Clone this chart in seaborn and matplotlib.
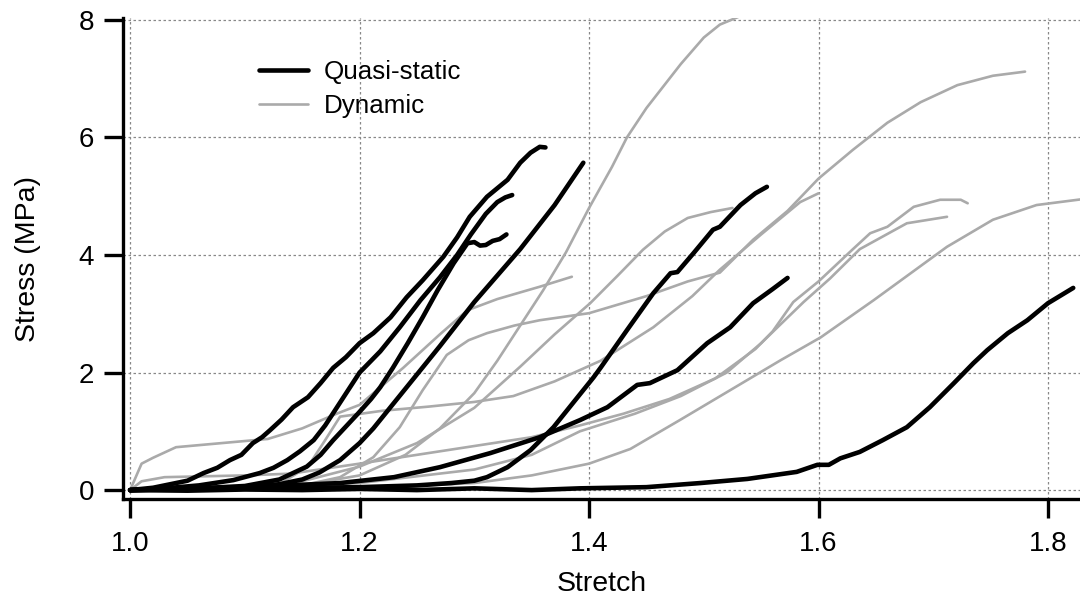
import numpy as np
import pandas as pd
import matplotlib
matplotlib.use("Agg")
import matplotlib.pyplot as plt
import seaborn as sns
from matplotlib.lines import Line2D

# ---------------- data ----------------
# Quasi-static curves
q1_x = [1.0, 1.02, 1.035, 1.05, 1.064, 1.076, 1.087, 1.097, 1.107, 1.115, 1.122, 1.132, 1.142, 1.155, 1.166,
        1.177, 1.188, 1.2, 1.212, 1.227, 1.241, 1.255, 1.273, 1.285, 1.296, 1.311, 1.329, 1.34, 1.349, 1.357, 1.362]
q1_y = [0.0, 0.04, 0.1, 0.16, 0.29, 0.38, 0.51, 0.6, 0.8, 0.9, 1.02, 1.2, 1.41, 1.58, 1.82,
        2.08, 2.26, 2.5, 2.67, 2.94, 3.28, 3.57, 3.97, 4.3, 4.65, 4.99, 5.28, 5.57, 5.74, 5.84, 5.83]
q2_x = [1.0, 1.03, 1.06, 1.09, 1.113, 1.125, 1.137, 1.148, 1.16, 1.17, 1.18, 1.19, 1.2, 1.21, 1.218, 1.235,
        1.253, 1.27, 1.285, 1.297, 1.31, 1.32, 1.327, 1.333]
q2_y = [0.0, 0.03, 0.08, 0.17, 0.29, 0.38, 0.51, 0.66, 0.85, 1.1, 1.4, 1.7, 2.0, 2.2, 2.36, 2.77,
        3.23, 3.62, 4.0, 4.35, 4.7, 4.9, 4.98, 5.02]
q3_x = [1.0, 1.05, 1.1, 1.13, 1.154, 1.166, 1.177, 1.188, 1.199, 1.21, 1.218, 1.229, 1.242, 1.255, 1.268,
        1.282, 1.294, 1.3, 1.305, 1.31, 1.316, 1.322, 1.328]
q3_y = [0.0, 0.02, 0.07, 0.18, 0.4, 0.6, 0.85, 1.08, 1.31, 1.55, 1.75, 2.08, 2.5, 2.94, 3.4,
        3.86, 4.2, 4.22, 4.16, 4.17, 4.24, 4.27, 4.35]
q4_x = [1.0, 1.05, 1.1, 1.13, 1.15, 1.165, 1.183, 1.2, 1.212, 1.241, 1.27, 1.3, 1.34, 1.37, 1.395]
q4_y = [0.0, 0.02, 0.05, 0.1, 0.18, 0.3, 0.51, 0.8, 1.05, 1.75, 2.45, 3.2, 4.1, 4.85, 5.57]
q5_x = [1.0, 1.1, 1.2, 1.25, 1.28, 1.3, 1.311, 1.329, 1.349, 1.369, 1.39, 1.404, 1.41, 1.433, 1.456,
        1.471, 1.477, 1.491, 1.508, 1.514, 1.532, 1.545, 1.555]
q5_y = [0.0, 0.03, 0.05, 0.08, 0.12, 0.16, 0.22, 0.39, 0.68, 1.07, 1.58, 1.92, 2.08, 2.72, 3.35,
        3.69, 3.71, 4.03, 4.43, 4.48, 4.85, 5.05, 5.16]
q6_x = [1.0, 1.1, 1.183, 1.23, 1.27, 1.314, 1.357, 1.392, 1.416, 1.442, 1.453, 1.477, 1.503, 1.523,
        1.543, 1.56, 1.573]
q6_y = [0.0, 0.05, 0.12, 0.22, 0.39, 0.63, 0.9, 1.19, 1.41, 1.79, 1.82, 2.04, 2.5, 2.77,
        3.18, 3.42, 3.61]
q7_x = [1.0, 1.05, 1.1, 1.15, 1.2, 1.25, 1.3, 1.35, 1.392, 1.45, 1.497, 1.538, 1.581, 1.599, 1.609,
        1.619, 1.636, 1.656, 1.677, 1.697, 1.718, 1.735, 1.747, 1.765, 1.782, 1.8, 1.822]
q7_y = [0.0, -0.01, 0.01, 0.0, 0.02, 0.0, 0.03, 0.0, 0.03, 0.05, 0.12, 0.19, 0.31, 0.43, 0.43,
        0.54, 0.65, 0.85, 1.07, 1.41, 1.82, 2.16, 2.38, 2.67, 2.89, 3.18, 3.44]

# Dynamic curves
d1_x = [1.0, 1.1, 1.15, 1.2, 1.24, 1.27, 1.3, 1.32, 1.34, 1.36, 1.38, 1.4, 1.42, 1.433, 1.45, 1.462,
        1.48, 1.5, 1.514, 1.53]
d1_y = [0.0, 0.02, 0.08, 0.25, 0.6, 1.05, 1.65, 2.2, 2.8, 3.4, 4.05, 4.8, 5.5, 6.0, 6.5, 6.8,
        7.25, 7.7, 7.92, 8.05]
d2_x = [1.0, 1.1, 1.15, 1.183, 1.212, 1.235, 1.255, 1.276, 1.295, 1.311, 1.335, 1.357, 1.4, 1.45,
        1.486, 1.514, 1.543, 1.573, 1.6, 1.63, 1.66, 1.689, 1.721, 1.752, 1.78]
d2_y = [0.0, 0.03, 0.08, 0.22, 0.56, 1.07, 1.7, 2.3, 2.55, 2.67, 2.8, 2.89, 3.01, 3.3,
        3.55, 3.7, 4.26, 4.75, 5.3, 5.79, 6.25, 6.6, 6.89, 7.05, 7.12]
d3_x = [1.0, 1.01, 1.02, 1.04, 1.08, 1.12, 1.15, 1.18, 1.2, 1.238, 1.27, 1.294, 1.32, 1.357, 1.385]
d3_y = [0.0, 0.45, 0.55, 0.73, 0.8, 0.87, 1.05, 1.3, 1.45, 2.08, 2.65, 3.06, 3.25, 3.46, 3.63]
d4_x = [1.0, 1.1, 1.15, 1.2, 1.25, 1.3, 1.34, 1.37, 1.401, 1.425, 1.447, 1.466, 1.486, 1.506, 1.525]
d4_y = [0.0, 0.05, 0.15, 0.4, 0.8, 1.4, 2.1, 2.65, 3.18, 3.65, 4.09, 4.4, 4.63, 4.73, 4.8]
d5_x = [1.0, 1.1, 1.13, 1.155, 1.17, 1.183, 1.22, 1.26, 1.3, 1.334, 1.37, 1.41, 1.456, 1.49, 1.514,
        1.55, 1.584, 1.6]
d5_y = [0.0, 0.02, 0.1, 0.4, 0.85, 1.25, 1.35, 1.42, 1.5, 1.6, 1.85, 2.2, 2.77, 3.3, 3.75,
        4.35, 4.9, 5.05]
d6_x = [1.0, 1.01, 1.03, 1.1, 1.14, 1.2, 1.3, 1.35, 1.392, 1.43, 1.47, 1.51, 1.545, 1.56, 1.578, 1.6,
        1.63, 1.645, 1.66, 1.683, 1.706, 1.724, 1.73]
d6_y = [0.0, 0.15, 0.22, 0.25, 0.28, 0.45, 0.75, 0.9, 1.1, 1.3, 1.55, 1.9, 2.4, 2.7, 3.2, 3.55,
        4.1, 4.37, 4.48, 4.82, 4.94, 4.94, 4.88]
d7_x = [1.0, 1.1, 1.2, 1.3, 1.35, 1.392, 1.44, 1.48, 1.52, 1.55, 1.587, 1.61, 1.636, 1.677, 1.712]
d7_y = [0.0, 0.03, 0.12, 0.35, 0.6, 1.0, 1.3, 1.6, 2.0, 2.5, 3.2, 3.6, 4.1, 4.54, 4.65]
d8_x = [1.0, 1.2, 1.3, 1.35, 1.4, 1.436, 1.479, 1.523, 1.567, 1.602, 1.648, 1.712, 1.752, 1.79, 1.83]
d8_y = [0.0, 0.03, 0.12, 0.25, 0.45, 0.7, 1.19, 1.7, 2.21, 2.6, 3.23, 4.14, 4.6, 4.85, 4.95]

quasi = [(q1_x, q1_y), (q2_x, q2_y), (q3_x, q3_y), (q4_x, q4_y), (q5_x, q5_y), (q6_x, q6_y), (q7_x, q7_y)]
dyn = [(d1_x, d1_y), (d2_x, d2_y), (d3_x, d3_y), (d4_x, d4_y), (d5_x, d5_y), (d6_x, d6_y),
       (d7_x, d7_y), (d8_x, d8_y)]

x_ticks = [1.0, 1.2, 1.4, 1.6, 1.8]
y_ticks = [0, 2, 4, 6, 8]
labels = ["Quasi-static", "Dynamic"]


def to_frame(curves, kind):
    rows = []
    for i, (xs, ys) in enumerate(curves):
        for j, (a, b) in enumerate(zip(xs, ys)):
            rows.append({"curve": f"{kind}{i}", "order": j, "x": a, "y": b, "type": kind})
    return pd.DataFrame(rows)


df_q = to_frame(quasi, "Quasi-static")
df_d = to_frame(dyn, "Dynamic")

# ---------------- style ----------------
sns.set_style("ticks")
plt.rcParams["font.family"] = ["Liberation Sans", "DejaVu Sans"]
plt.rcParams["text.color"] = "black"
plt.rcParams["axes.labelcolor"] = "black"
plt.rcParams["xtick.color"] = "black"
plt.rcParams["ytick.color"] = "black"

fig = plt.figure(figsize=(10.8, 5.97), dpi=100)
ax = fig.add_axes([0.114, 0.164, 0.886, 0.806])

GRAY = "#aaaaaa"
sns.lineplot(data=df_d, x="x", y="y", units="curve", estimator=None, sort=False,
             color=GRAY, linewidth=1.9, ax=ax, legend=False)
sns.lineplot(data=df_q, x="x", y="y", units="curve", estimator=None, sort=False,
             color="black", linewidth=3.3, ax=ax, legend=False)

ax.set_xlim(0.9939, 1.8279)
ax.set_ylim(-0.153, 8.034)
ax.set_xticks(x_ticks)
ax.set_xticklabels([f"{v:.1f}" for v in x_ticks])
ax.set_yticks(y_ticks)
ax.set_yticklabels([str(v) for v in y_ticks])

ax.grid(True, linestyle=(0, (2.0, 2.0)), color="#888888", linewidth=0.9)
ax.set_axisbelow(True)
for s in ["top", "right"]:
    ax.spines[s].set_visible(False)
for s in ["left", "bottom"]:
    ax.spines[s].set_linewidth(2.4)
    ax.spines[s].set_color("black")
ax.tick_params(axis="both", direction="out", length=14, width=2.4, labelsize=20,
               color="black", labelcolor="black")
ax.tick_params(axis="x", pad=9)
ax.tick_params(axis="y", pad=7)

ax.set_xlabel("Stretch", fontsize=20.5, labelpad=10, color="black")
ax.set_ylabel("Stress (MPa)", fontsize=20.5, labelpad=27, color="black")

handles = [Line2D([], [], color="black", linewidth=3.3), Line2D([], [], color=GRAY, linewidth=1.9)]
leg = ax.legend(handles, labels, loc="upper left", bbox_to_anchor=(0.142, 0.9125), frameon=False,
                fontsize=18.7, handlelength=1.9, handletextpad=0.6, labelspacing=0.37,
                borderpad=0, borderaxespad=0)
for t in leg.get_texts():
    t.set_color("black")

fig.savefig("out.png", dpi=100, facecolor="white")
